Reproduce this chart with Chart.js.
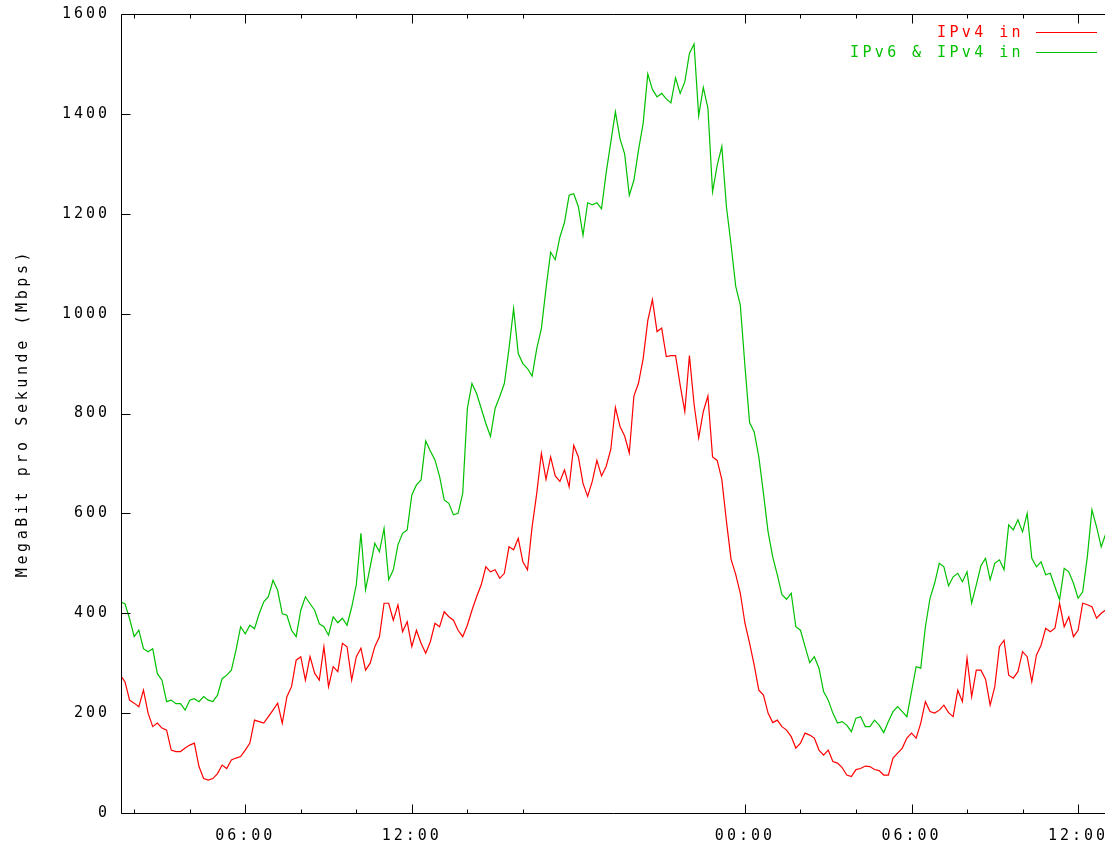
<!DOCTYPE html>
<html><head><meta charset="utf-8">
<script src="https://cdn.jsdelivr.net/npm/chart.js@4/dist/chart.umd.min.js"></script>
<style>html,body{margin:0;padding:0;background:#fff;overflow:hidden}canvas{display:block}</style>
</head><body>
<canvas id="c" width="1105" height="844" style="width:1105px;height:844px"></canvas>
<script>
// time of each sample (10 minute steps, day 1 01:30 -> day 2 13:00)
const times = [
"01:30","01:40","01:50",
"02:00","02:10","02:20","02:30","02:40","02:50",
"03:00","03:10","03:20","03:30","03:40","03:50",
"04:00","04:10","04:20","04:30","04:40","04:50",
"05:00","05:10","05:20","05:30","05:40","05:50",
"06:00","06:10","06:20","06:30","06:40","06:50",
"07:00","07:10","07:20","07:30","07:40","07:50",
"08:00","08:10","08:20","08:30","08:40","08:50",
"09:00","09:10","09:20","09:30","09:40","09:50",
"10:00","10:10","10:20","10:30","10:40","10:50",
"11:00","11:10","11:20","11:30","11:40","11:50",
"12:00","12:10","12:20","12:30","12:40","12:50",
"13:00","13:10","13:20","13:30","13:40","13:50",
"14:00","14:10","14:20","14:30","14:40","14:50",
"15:00","15:10","15:20","15:30","15:40","15:50",
"16:00","16:10","16:20","16:30","16:40","16:50",
"17:00","17:10","17:20","17:30","17:40","17:50",
"18:00","18:10","18:20","18:30","18:40","18:50",
"19:00","19:10","19:20","19:30","19:40","19:50",
"20:00","20:10","20:20","20:30","20:40","20:50",
"21:00","21:10","21:20","21:30","21:40","21:50",
"22:00","22:10","22:20","22:30","22:40","22:50",
"23:00","23:10","23:20","23:30","23:40","23:50",
"00:00","00:10","00:20","00:30","00:40","00:50",
"01:00","01:10","01:20","01:30","01:40","01:50",
"02:00","02:10","02:20","02:30","02:40","02:50",
"03:00","03:10","03:20","03:30","03:40","03:50",
"04:00","04:10","04:20","04:30","04:40","04:50",
"05:00","05:10","05:20","05:30","05:40","05:50",
"06:00","06:10","06:20","06:30","06:40","06:50",
"07:00","07:10","07:20","07:30","07:40","07:50",
"08:00","08:10","08:20","08:30","08:40","08:50",
"09:00","09:10","09:20","09:30","09:40","09:50",
"10:00","10:10","10:20","10:30","10:40","10:50",
"11:00","11:10","11:20","11:30","11:40","11:50",
"12:00","12:10","12:20","12:30","12:40","12:50",
"13:00"
];

// IPv4 in (Mbps)
const ipv4In = [
276,263,226,220,213,246,200,173,180,170,
166,126,123,123,130,136,140,93,69,66,
69,79,96,89,106,110,113,126,140,186,
183,180,193,206,220,180,233,253,306,313,
266,313,280,266,333,253,293,
283,340,333,266,313,330,286,300,333,353,
420,420,386,417,363,383,333,366,340,320,
343,380,373,403,393,386,366,353,376,406,
433,457,493,483,487,470,480,533,527,550,
503,487,573,640,720,
668,713,675,664,687,653,736,713,660,634,
664,706,675,694,728,812,774,755,721,835,
861,910,986,1028,964,971,914,916,916,857,
804,916,819,751,804,835,713,706,668,584,
508,478,440,380,340,296,246,
236,200,181,186,173,166,153,130,140,160,
156,150,126,116,126,103,100,91,76,73,
87,89,94,93,87,85,76,76,110,120,
130,150,160,150,180,223,203,200,206,216,
201,
193,246,223,310,233,286,286,268,216,253,
333,346,276,270,283,323,313,263,316,336,
370,363,370,420,373,393,353,366,420,417,
413,390,400,407
];

// IPv6 & IPv4 in (Mbps)
const ipv6v4In = [
423,419,389,353,366,329,323,329,279,266,
223,226,219,219,206,226,229,223,233,226,
223,236,269,276,286,326,373,359,376,369,
399,423,433,466,446,399,396,366,353,406,
433,419,406,379,373,356,393,
381,390,376,412,457,560,447,493,540,523,
570,467,487,537,560,567,637,657,667,745,
725,707,674,627,620,597,600,640,810,860,
840,810,780,754,810,834,860,930,1010,920,
900,890,875,930,970,
1050,1123,1108,1153,1183,1237,1240,1214,1157,1222,
1218,1222,1210,1282,1343,1404,1350,1320,1237,1267,
1328,1381,1480,1449,1434,1441,1430,1422,1472,1441,
1464,1521,1540,1396,1453,1411,1244,1297,1335,1214,
1138,1055,1017,895,782,763,713,
640,563,513,477,437,428,440,373,366,333,
301,313,290,243,226,200,180,183,176,163,
190,193,173,173,186,176,161,183,203,213,
203,193,243,293,290,373,430,460,500,493,
455,
473,480,463,483,420,457,495,510,467,500,
507,487,577,567,587,563,600,510,493,503,
477,480,453,427,490,483,460,430,443,513,
607,573,533,560
];

const yTickValues = [0,200,400,600,800,1000,1200,1400,1600];
const xTickLabels = ["06:00","12:00","00:00","06:00","12:00"];
const xMinorTicks = ["02:00","04:00","08:00","10:00","14:00","16:00","02:00","04:00","08:00","10:00"];
const seriesNames = ["IPv4 in","IPv6 & IPv4 in"];
const yTitle = "MegaBit pro Sekunde (Mbps)";

function toHours(list){
  let day = 0, prev = -1;
  return list.map(s => {
    const p = s.split(':').map(Number);
    const v = p[0] + p[1]/60;
    if (v < prev) day++;
    prev = v;
    return v + 24*day;
  });
}
const hrs = toHours(times);
const majorHrs = toHours(xTickLabels);
const minorHrs = toHours(xMinorTicks);

const FONT_FAMILY = "'DejaVu Sans Mono', monospace";
const FONT = {family: FONT_FAMILY, size: 15};
const RED = '#ff0000', GREEN = '#00c000';

const frame = {
  id: 'frame',
  beforeDraw(c){ c.ctx.letterSpacing = '3px'; },
  afterDraw(c){
    const ctx = c.ctx, a = c.chartArea, xs = c.scales.x, ys = c.scales.y;
    ctx.save();
    ctx.letterSpacing = '0px';
    ctx.strokeStyle = '#000';
    ctx.lineWidth = 1;
    const L = Math.round(a.left) + 0.5, B = Math.round(a.bottom) + 0.5, T = Math.round(a.top) + 0.5, R = Math.round(a.right) + 6;
    ctx.beginPath();
    ctx.moveTo(L, T); ctx.lineTo(R, T);
    ctx.moveTo(L, T); ctx.lineTo(L, B);
    ctx.moveTo(L, B); ctx.lineTo(R, B);
    // x major / minor ticks (inward, mirrored on top)
    majorHrs.forEach(v => {
      const px = Math.round(xs.getPixelForValue(v)) + 0.5;
      ctx.moveTo(px, B); ctx.lineTo(px, B - 9);
      ctx.moveTo(px, T); ctx.lineTo(px, T + 9);
    });
    minorHrs.forEach(v => {
      const px = Math.round(xs.getPixelForValue(v)) + 0.5;
      ctx.moveTo(px, B); ctx.lineTo(px, B - 4);
      ctx.moveTo(px, T); ctx.lineTo(px, T + 4);
    });
    yTickValues.forEach(v => {
      const py = Math.round(ys.getPixelForValue(v)) + 0.5;
      ctx.moveTo(L, py); ctx.lineTo(L + 9, py);
    });
    ctx.stroke();

    // legend
    ctx.font = '15px ' + FONT_FAMILY;
    ctx.letterSpacing = '3.4px';
    ctx.textAlign = 'right';
    ctx.textBaseline = 'middle';
    const legendColors = [RED, GREEN];
    seriesNames.forEach((n, i) => {
      const yy = 32 + i*20;
      ctx.fillStyle = legendColors[i];
      ctx.fillText(n, 1024, yy + 1);
      ctx.strokeStyle = legendColors[i];
      ctx.beginPath();
      ctx.moveTo(1036, yy + 0.5); ctx.lineTo(1097, yy + 0.5);
      ctx.stroke();
    });

    // y axis title
    ctx.letterSpacing = '3.6px';
    ctx.fillStyle = '#000';
    ctx.textAlign = 'center';
    ctx.translate(23, 413);
    ctx.rotate(-Math.PI/2);
    ctx.fillText(yTitle, 0, 0);
    ctx.restore();
  }
};

new Chart(document.getElementById('c').getContext('2d'), {
  type: 'line',
  data: {
    datasets: [
      {label: seriesNames[1], data: hrs.map((x, i) => ({x: x, y: ipv6v4In[i]})), borderColor: GREEN, borderWidth: 1.2, pointRadius: 0, tension: 0, fill: false},
      {label: seriesNames[0], data: hrs.map((x, i) => ({x: x, y: ipv4In[i]})), borderColor: RED, borderWidth: 1.2, pointRadius: 0, tension: 0, fill: false}
    ]
  },
  options: {
    responsive: false,
    animation: false,
    devicePixelRatio: 1,
    layout: {padding: {top: 14, left: 0, right: 0, bottom: 0}},
    plugins: {legend: {display: false}, tooltip: {enabled: false}, title: {display: false}},
    scales: {
      x: {
        type: 'linear', min: 1.524, max: 36.97,
        grid: {display: false, drawTicks: false},
        border: {display: false},
        afterBuildTicks: s => { s.ticks = majorHrs.map(v => ({value: v})); },
        afterFit: s => { s.height = 31; s.paddingLeft = 0; s.paddingRight = 0; },
        ticks: {
          autoSkip: false, maxRotation: 0, minRotation: 0, padding: 14, color: '#000', font: FONT,
          callback: (v) => { const i = majorHrs.indexOf(v); return i >= 0 ? xTickLabels[i] : ''; }
        }
      },
      y: {
        min: 0, max: 1600,
        grid: {display: false, drawTicks: false},
        border: {display: false},
        afterBuildTicks: s => { s.ticks = yTickValues.map(v => ({value: v})); },
        afterFit: s => { s.width = 121; s.paddingTop = 0; s.paddingBottom = 0; },
        ticks: {padding: 11, color: '#000', font: FONT, callback: v => String(v)}
      }
    }
  },
  plugins: [frame]
});
</script>
</body></html>
